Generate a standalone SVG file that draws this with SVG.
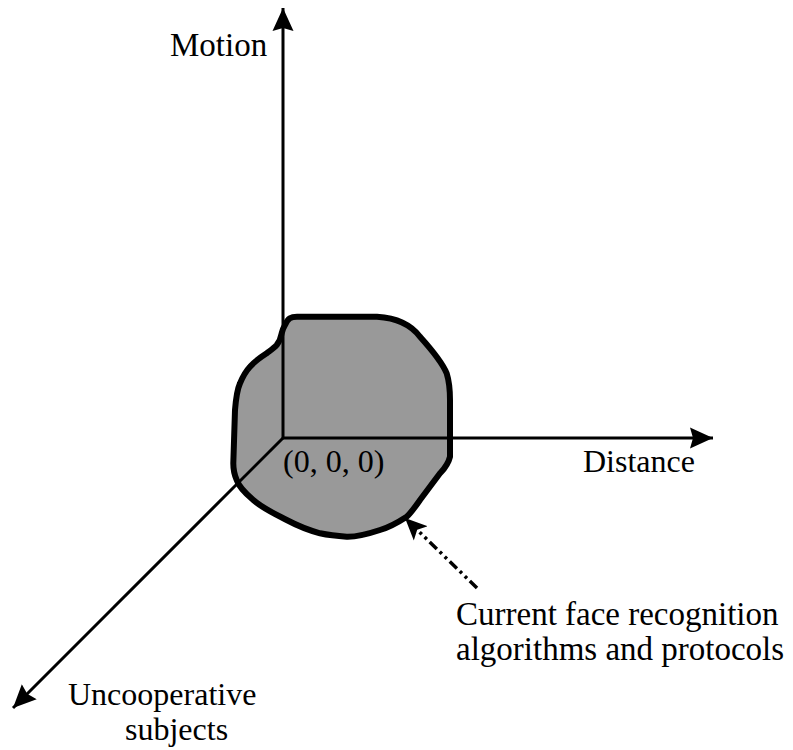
<svg xmlns="http://www.w3.org/2000/svg" width="793" height="750" viewBox="0 0 793 750">
<style>
.axis{stroke:#000;stroke-width:3;fill:none}
</style>
<defs>
<marker id="ah" markerUnits="userSpaceOnUse" markerWidth="25" markerHeight="22" refX="23" refY="11" orient="auto">
<path d="M0,0.5 L23,11 L0,21.5 L3,11 z" fill="#000"/>
</marker>
<marker id="ah2" markerUnits="userSpaceOnUse" markerWidth="24" markerHeight="22" refX="22" refY="11" orient="auto">
<path d="M0,1 L22,11 L0,21 L5,11 z" fill="#000"/>
</marker>
</defs>
<rect width="793" height="750" fill="#fff"/>
<g font-family="Liberation Serif, DejaVu Serif, serif" font-size="32" fill="#000">
<g id="region">
<path d="M285,325 C288,318 291,316.7 297,316.7 L377,316.7 C398,318 412,326 420,336.7 C432,350 442,362 446.7,373.3 C450,384 450,392 450,400 L450,456.7 C448,465 444,469 440,473.3 C432,484 426,492 420,500 C415,507 411,513 406.7,516.7 C397,523 390,527 380,530 C368,534 358,537 346.7,536.7 C336,536 328,535 320,533.3 C308,530 298,526 286.7,520 C275,514 262,508 253.3,500 C245,493 239,487 236.7,480 C234,474 233.3,470 233.3,463.3 L235,410 C236,398 237,390 240,383.3 C243,376 246,371 250,366.7 C255,361 261,357 266.7,353.3 C271,350 274,348 276.7,345 C280,341 281,337 281.7,333.3 C282.5,330 283.5,327.5 285,325 Z" fill="#999" stroke="#000" stroke-width="6" stroke-linejoin="round"/>
<text x="283" y="472">(0, 0, 0)</text>
</g>
<g id="connectors">
<line class="axis" x1="283" y1="438" x2="283" y2="8" marker-end="url(#ah)"/>
<line class="axis" x1="283" y1="438" x2="713" y2="438" marker-end="url(#ah)"/>
<line class="axis" x1="283" y1="438" x2="13" y2="708" marker-end="url(#ah)"/>
<line x1="477" y1="588" x2="405" y2="518" stroke="#000" stroke-width="3.5" stroke-dasharray="10 4 3 4 3 4" marker-end="url(#ah2)"/>
</g>
<g id="motion"><text x="170" y="56" font-size="33">Motion</text></g>
<g id="distance"><text x="583" y="472">Distance</text></g>
<g id="uncooperative">
<text x="68" y="705">Uncooperative</text>
<text x="125" y="740">subjects</text>
</g>
<g id="current" font-size="33">
<text x="456" y="625">Current face recognition</text>
<text x="456" y="660">algorithms and protocols</text>
</g>
</g>
</svg>
